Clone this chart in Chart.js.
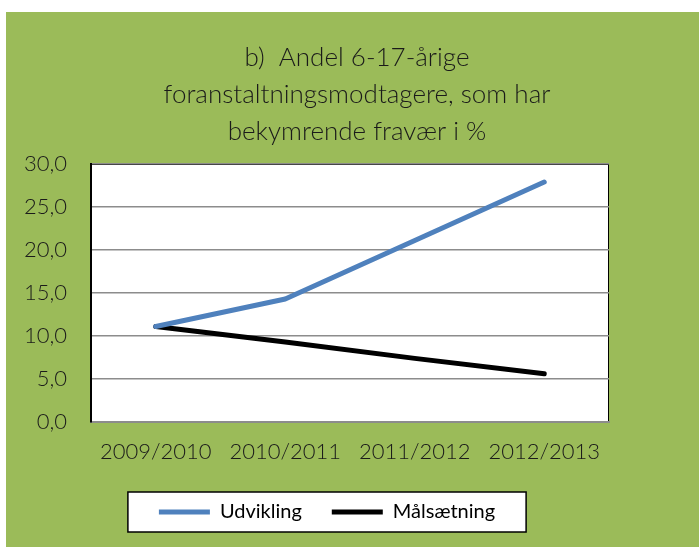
<!DOCTYPE html>
<html>
<head>
<meta charset="utf-8">
<title>Andel 6-17-årige</title>
<script src="https://cdn.jsdelivr.net/npm/chart.js@4"></script>
<style>
  html, body { margin: 0; padding: 0; background: #ffffff; }
  #wrap { position: absolute; left: 6px; top: 12px; width: 693px; height: 535px; background: #9bbb59; }
</style>
</head>
<body>
<div id="wrap"><canvas id="chart" width="693" height="535"></canvas></div>
<script>
const titleLines = ["b)  Andel 6-17-årige", "foranstaltningsmodtagere, som har", "bekymrende fravær i %"];
const years = ["2009/2010", "2010/2011", "2011/2012", "2012/2013"];
const udvikling = [11.1, 14.3, 21.1, 27.9];
const maalsaetning = [11.1, 9.3, 7.4, 5.6];

const textColor = "#1a1a1a";
const fontFamily = "Lato, 'Open Sans', sans-serif";

// white plot area and the boxed legend
const panels = {
  id: "panels",
  afterLayout(chart) {
    chart.legend.left -= 30;
    chart.legend.right -= 30;
  },
  beforeDraw(chart) {
    const { ctx, chartArea: a, legend } = chart;
    ctx.save();
    ctx.fillStyle = "#ffffff";
    ctx.fillRect(a.left, a.top, a.right - a.left, a.bottom - a.top);
    ctx.strokeStyle = "#000000";
    ctx.lineWidth = 1;
    ctx.strokeRect(a.left + 0.5, a.top + 0.5, a.right - a.left - 1, a.bottom - a.top);

    const cx = (legend.left + legend.right) / 2;
    const w = legend.lineWidths[0] - legend.options.labels.padding + 62;
    const top = legend.top + legend.options.labels.padding - 10;
    ctx.fillStyle = "#ffffff";
    ctx.fillRect(cx - w / 2, top, w, 40);
    ctx.lineWidth = 1.5;
    ctx.strokeRect(cx - w / 2, top, w, 40);
    ctx.restore();
  }
};

new Chart(document.getElementById("chart"), {
  type: "line",
  data: {
    labels: years,
    datasets: [
      {
        label: "Udvikling",
        data: udvikling,
        borderColor: "#4f81bd",
        backgroundColor: "#4f81bd",
        borderWidth: 5,
        borderCapStyle: "round",
        borderJoinStyle: "round",
        pointRadius: 0,
        tension: 0
      },
      {
        label: "Målsætning",
        data: maalsaetning,
        borderColor: "#000000",
        backgroundColor: "#000000",
        borderWidth: 5,
        borderCapStyle: "round",
        borderJoinStyle: "round",
        pointRadius: 0,
        tension: 0
      }
    ]
  },
  options: {
    responsive: false,
    animation: false,
    devicePixelRatio: 1,
    layout: { padding: { left: 9, right: 0, top: 0, bottom: 15 } },
    plugins: {
      title: {
        display: true,
        text: titleLines,
        color: textColor,
        font: { family: fontFamily, size: 26, weight: 300, lineHeight: 37 / 26 },
        padding: { top: 27, bottom: 14 }
      },
      legend: {
        position: "bottom",
        labels: {
          color: "#000000",
          font: { family: fontFamily, size: 20 },
          usePointStyle: true,
          pointStyle: "line",
          pointStyleWidth: 51,
          padding: 30
        }
      },
      tooltip: { enabled: false }
    },
    scales: {
      x: {
        offset: true,
        grid: { display: false, drawTicks: false },
        border: { color: "#8c8c8c", width: 2 },
        ticks: { color: textColor, font: { family: fontFamily, size: 22, weight: 300 }, padding: 17, maxRotation: 0 },
        afterFit(scale) { scale.height = 50; }
      },
      y: {
        min: 0,
        max: 30,
        grid: { color: "#8c8c8c", lineWidth: 1.5, drawTicks: false },
        border: { color: "#000000", width: 2 },
        ticks: {
          stepSize: 5,
          color: textColor,
          font: { family: fontFamily, size: 22, weight: 300 },
          padding: 24,
          callback: (v) => v.toFixed(1).replace(".", ",")
        },
        afterFit(scale) { scale.width = 76; }
      },
      y2: {
        position: "right",
        display: true,
        grid: { display: false, drawTicks: false },
        border: { display: false },
        ticks: { display: false },
        afterFit(scale) { scale.width = 90; }
      }
    }
  },
  plugins: [panels]
});
</script>
</body>
</html>
